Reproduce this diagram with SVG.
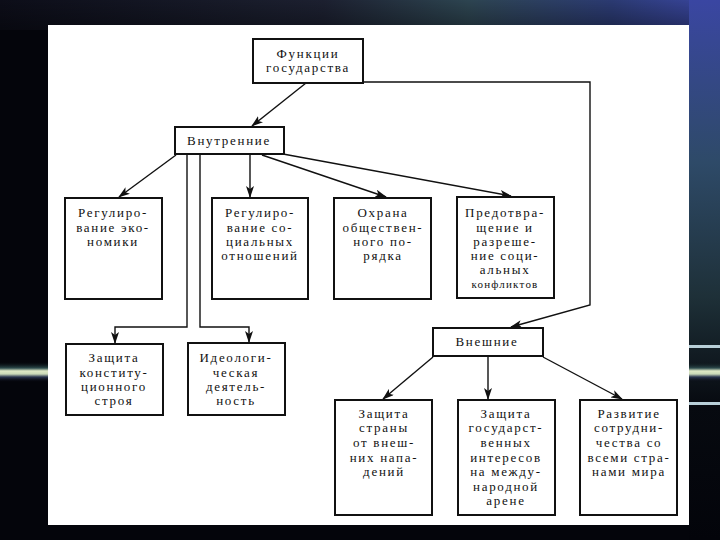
<svg xmlns="http://www.w3.org/2000/svg" width="720" height="540" viewBox="0 0 720 540">
<defs>
<style>
.box{fill:#fff;stroke:#111;stroke-width:2}
.t{font-family:"Liberation Serif","DejaVu Serif",serif;font-size:13px;letter-spacing:1.7px;fill:#111;text-anchor:middle}
.s{font-size:11px;letter-spacing:1.2px}
.c{fill:none;stroke:#111;stroke-width:1.4}
</style>
<marker id="ah" viewBox="0 0 12 8" refX="11" refY="4" markerWidth="12" markerHeight="8" markerUnits="userSpaceOnUse" orient="auto">
<path d="M0,0 L12,4 L0,8 L3,4 Z" fill="#111"/>
</marker>
<linearGradient id="top" x1="0" y1="0" x2="1" y2="0">
<stop offset="0" stop-color="#0c0d18"/>
<stop offset="0.45" stop-color="#1c2030"/>
<stop offset="0.65" stop-color="#2d4450"/>
<stop offset="0.85" stop-color="#2b3a72"/>
<stop offset="1" stop-color="#3a46a2"/>
</linearGradient>
<linearGradient id="topfade" x1="0" y1="0" x2="0" y2="1">
<stop offset="0" stop-color="#000" stop-opacity="0"/>
<stop offset="1" stop-color="#000" stop-opacity="0.35"/>
</linearGradient>
<linearGradient id="right" x1="0" y1="0" x2="0" y2="1">
<stop offset="0" stop-color="#3a46a2"/>
<stop offset="0.3" stop-color="#2e4a68"/>
<stop offset="0.55" stop-color="#1e3038"/>
<stop offset="0.75" stop-color="#070a10"/>
<stop offset="1" stop-color="#03040a"/>
</linearGradient>
<linearGradient id="streakL" x1="0" y1="0" x2="0" y2="1">
<stop offset="0" stop-color="#0a1216" stop-opacity="0"/>
<stop offset="0.3" stop-color="#2c4a4c"/>
<stop offset="0.45" stop-color="#dfe9c6"/>
<stop offset="0.6" stop-color="#c9d8b8"/>
<stop offset="0.75" stop-color="#2a3550"/>
<stop offset="1" stop-color="#0a0a14" stop-opacity="0"/>
</linearGradient>
</defs>
<rect x="0" y="0" width="720" height="540" fill="#04050b"/>
<rect x="0" y="0" width="720" height="30" fill="url(#top)"/>
<rect x="0" y="0" width="720" height="30" fill="url(#topfade)"/>
<rect x="689" y="0" width="31" height="540" fill="url(#right)"/>
<rect x="0" y="362" width="48" height="20" fill="url(#streakL)"/>
<rect x="689" y="345" width="31" height="3" fill="#b8cfd8"/>
<rect x="689" y="362" width="31" height="20" fill="url(#streakL)"/>
<rect x="689" y="402" width="31" height="3" fill="#b8cfd8"/>
<rect x="48" y="25" width="641" height="500" fill="#fff"/>

<g id="connectors">
<path class="c" d="M306,83 L252,126" marker-end="url(#ah)"/>
<path class="c" d="M363,82 L590,82 L590,305 L511,327" marker-end="url(#ah)"/>
<path class="c" d="M176,155 L119,197" marker-end="url(#ah)"/>
<path class="c" d="M250,155 L250,197" marker-end="url(#ah)"/>
<path class="c" d="M262,155 L386,197" marker-end="url(#ah)"/>
<path class="c" d="M283,154 L511,196" marker-end="url(#ah)"/>
<path class="c" d="M187,155 L187,327 L115,327 L115,343" marker-end="url(#ah)"/>
<path class="c" d="M200,155 L200,327 L249,327 L249,342" marker-end="url(#ah)"/>
<path class="c" d="M433,357 L383,399" marker-end="url(#ah)"/>
<path class="c" d="M488,357 L488,399" marker-end="url(#ah)"/>
<path class="c" d="M543,357 L622,399" marker-end="url(#ah)"/>
</g>

<g id="functions">
<rect class="box" x="253" y="39" width="110" height="44"/>
<text class="t" x="308" y="58">Функции</text>
<text class="t" x="308" y="72">государства</text>
</g>
<g id="internal">
<rect class="box" x="175" y="127" width="109" height="27"/>
<text class="t" x="229" y="145">Внутренние</text>
</g>
<g id="economy">
<rect class="box" x="65" y="198" width="97" height="101"/>
<text class="t" x="113" y="217">Регулиро-</text>
<text class="t" x="113" y="232">вание эко-</text>
<text class="t" x="113" y="246">номики</text>
</g>
<g id="social">
<rect class="box" x="212" y="198" width="96" height="101"/>
<text class="t" x="260" y="217">Регулиро-</text>
<text class="t" x="260" y="232">вание со-</text>
<text class="t" x="260" y="246">циальных</text>
<text class="t" x="260" y="260">отношений</text>
</g>
<g id="order">
<rect class="box" x="334" y="198" width="97" height="101"/>
<text class="t" x="383" y="217">Охрана</text>
<text class="t" x="383" y="232">обществен-</text>
<text class="t" x="383" y="246">ного по-</text>
<text class="t" x="383" y="260">рядка</text>
</g>
<g id="conflicts">
<rect class="box" x="457" y="197" width="97" height="101"/>
<text class="t" x="505" y="217">Предотвра-</text>
<text class="t" x="505" y="232">щение и</text>
<text class="t" x="505" y="246">разреше-</text>
<text class="t" x="505" y="260">ние соци-</text>
<text class="t" x="505" y="274">альных</text>
<text class="t s" x="505" y="288">конфликтов</text>
</g>
<g id="constitution">
<rect class="box" x="66" y="344" width="97" height="71"/>
<text class="t" x="114" y="362">Защита</text>
<text class="t" x="114" y="377">конститу-</text>
<text class="t" x="114" y="391">ционного</text>
<text class="t" x="114" y="405">строя</text>
</g>
<g id="ideology">
<rect class="box" x="188" y="343" width="97" height="72"/>
<text class="t" x="236" y="362">Идеологи-</text>
<text class="t" x="236" y="377">ческая</text>
<text class="t" x="236" y="391">деятель-</text>
<text class="t" x="236" y="405">ность</text>
</g>
<g id="external">
<rect class="box" x="433" y="328" width="110" height="28"/>
<text class="t" x="487" y="346">Внешние</text>
</g>
<g id="defense">
<rect class="box" x="335" y="400" width="97" height="115"/>
<text class="t" x="384" y="418">Защита</text>
<text class="t" x="384" y="432">страны</text>
<text class="t" x="384" y="447">от внеш-</text>
<text class="t" x="384" y="462">них напа-</text>
<text class="t" x="384" y="476">дений</text>
</g>
<g id="interests">
<rect class="box" x="458" y="400" width="97" height="115"/>
<text class="t" x="506" y="418">Защита</text>
<text class="t" x="506" y="432">государст-</text>
<text class="t" x="506" y="447">венных</text>
<text class="t" x="506" y="462">интересов</text>
<text class="t" x="506" y="476">на между-</text>
<text class="t" x="506" y="491">народной</text>
<text class="t" x="506" y="505">арене</text>
</g>
<g id="cooperation">
<rect class="box" x="580" y="400" width="97" height="115"/>
<text class="t" x="629" y="418">Развитие</text>
<text class="t" x="629" y="432">сотрудни-</text>
<text class="t" x="629" y="447">чества со</text>
<text class="t" x="629" y="462">всеми стра-</text>
<text class="t" x="629" y="476">нами мира</text>
</g>
</svg>
